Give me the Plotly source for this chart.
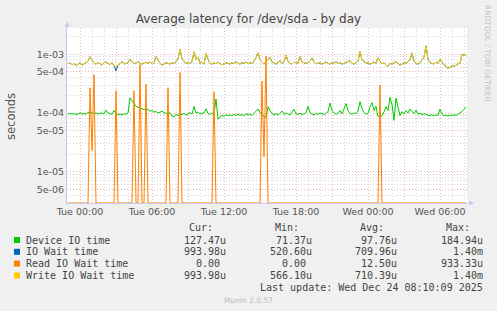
import plotly.graph_objects as go
import pandas as pd
import numpy as np

# ---------------- data (microseconds, one sample every 10 minutes) ----------------
START = "2025-12-22 23:00"
STEP = "10min"

device_us = [
    96, 99, 95, 98, 94, 97, 100, 96, 98, 95,
    102, 104, 99, 97, 101, 96, 98, 100, 97, 112,
    100, 97, 95, 110, 98, 94, 96, 93, 97, 95,
    100, 182, 160, 140, 130, 125, 121, 118, 114, 120,
    112, 108, 110, 104, 106, 100, 103, 108, 101, 99,
    97, 101, 88, 86, 95, 90, 96, 94, 99, 92,
    98, 101, 96, 129, 100, 104, 96, 99, 100, 118,
    98, 95, 99, 96, 173, 78, 85, 92, 88, 94,
    90, 93, 89, 95, 91, 96, 92, 94, 90, 97,
    93, 96, 91, 98, 108, 117, 102, 95, 86, 84,
    128, 110, 98, 94, 97, 92, 99, 108, 95, 100,
    96, 93, 104, 115, 97, 95, 99, 94, 97, 101,
    130, 102, 96, 93, 98, 95, 100, 97, 94, 99,
    105, 148, 112, 100, 96, 98, 110, 97, 120, 144,
    110, 98, 95, 101, 97, 108, 156, 118, 102, 96,
    98, 128, 150, 110, 130, 88, 85, 90, 104, 128,
    110, 185, 140, 75, 180, 120, 90, 105, 96, 110,
    100, 117, 105, 98, 112, 95, 100, 93, 98, 94,
    92, 90, 94, 89, 93, 91, 117, 96, 90, 92,
    89, 92, 90, 94, 91, 96, 100, 106, 115, 127,
]

iowait_us = [
    690, 720, 660, 700, 640, 680, 720, 650, 690, 710,
    760, 910, 780, 700, 680, 730, 690, 650, 720, 740,
    700, 660, 720, 640, 521, 650, 700, 760, 680, 700,
    720, 820, 740, 690, 710, 760, 700, 680, 720, 730,
    700, 740, 690, 720, 910, 780, 700, 650, 690, 720,
    700, 680, 720, 690, 760, 820, 1220, 850, 760, 700,
    720, 690, 760, 1100, 820, 900, 700, 740, 680, 1040,
    820, 700, 680, 720, 690, 740, 700, 660, 690, 720,
    700, 680, 720, 690, 760, 700, 680, 720, 700, 740,
    690, 720, 700, 760, 880, 1060, 800, 720, 680, 760,
    820, 890, 740, 700, 680, 720, 780, 700, 740, 970,
    760, 700, 680, 740, 720, 700, 910, 740, 720, 700,
    720, 760, 870, 740, 690, 700, 720, 680, 700, 740,
    700, 680, 720, 700, 760, 690, 720, 680, 700, 720,
    740, 780, 700, 680, 720, 760, 1130, 800, 760, 700,
    720, 680, 700, 740, 700, 870, 760, 690, 720, 650,
    620, 700, 680, 720, 760, 700, 650, 680, 720, 700,
    740, 800, 1060, 760, 700, 680, 720, 800, 900, 1400,
    820, 720, 700, 680, 740, 700, 830, 720, 660, 620,
    580, 600, 640, 620, 660, 690, 700, 1000, 960, 994,
]

read_us = [
    0, 0, 0, 0, 0, 0, 0, 0, 0, 0,
    0, 270, 23, 450, 0, 0, 0, 0, 0, 0,
    0, 0, 0, 0, 240, 0, 0, 0, 0, 0,
    0, 0, 0, 240, 0, 0, 670, 0, 0, 310,
    0, 0, 0, 0, 0, 0, 0, 0, 0, 0,
    270, 0, 0, 0, 0, 0, 490, 0, 0, 0,
    0, 0, 0, 0, 0, 0, 0, 0, 0, 0,
    0, 0, 0, 230, 0, 0, 0, 0, 0, 0,
    0, 0, 0, 0, 0, 0, 0, 0, 0, 0,
    0, 0, 0, 0, 0, 0, 0, 350, 18, 933.33,
    0, 0, 0, 0, 0, 0, 0, 0, 0, 0,
    0, 0, 0, 0, 0, 0, 0, 0, 0, 0,
    0, 0, 0, 0, 0, 0, 0, 0, 0, 0,
    0, 0, 0, 0, 0, 0, 0, 0, 0, 0,
    0, 0, 0, 0, 0, 0, 0, 0, 0, 0,
    0, 0, 0, 0, 0, 0, 300, 0, 0, 0,
    0, 0, 0, 0, 0, 0, 0, 0, 0, 0,
    0, 0, 0, 0, 0, 0, 0, 0, 0, 0,
    0, 0, 0, 0, 0, 0, 0, 0, 0, 0,
    0, 0, 0, 0, 0, 0, 0, 0, 0, 0,
]

write_us = [
    690, 720, 660, 700, 640, 680, 720, 650, 690, 710,
    760, 910, 780, 700, 680, 730, 690, 650, 720, 740,
    700, 660, 720, 640, 610, 650, 700, 760, 680, 700,
    720, 820, 740, 690, 710, 760, 700, 680, 720, 730,
    700, 740, 690, 720, 910, 780, 700, 650, 690, 720,
    700, 680, 720, 690, 760, 820, 1220, 850, 760, 700,
    720, 690, 760, 1100, 820, 900, 700, 740, 680, 1040,
    820, 700, 680, 720, 690, 740, 700, 660, 690, 720,
    700, 680, 720, 690, 760, 700, 680, 720, 700, 740,
    690, 720, 700, 760, 880, 1060, 800, 720, 680, 760,
    820, 890, 740, 700, 680, 720, 780, 700, 740, 970,
    760, 700, 680, 740, 720, 700, 910, 740, 720, 700,
    720, 760, 870, 740, 690, 700, 720, 680, 700, 740,
    700, 680, 720, 700, 760, 690, 720, 680, 700, 720,
    740, 780, 700, 680, 720, 760, 1130, 800, 760, 700,
    720, 680, 700, 740, 700, 870, 760, 690, 720, 650,
    620, 700, 680, 720, 760, 700, 650, 680, 720, 700,
    740, 800, 1060, 760, 700, 680, 720, 800, 900, 1400,
    820, 720, 700, 680, 740, 700, 830, 720, 660, 620,
    580, 600, 640, 620, 660, 690, 700, 1000, 960, 994,
]

series_names = ["Device IO time", "IO Wait time", "Read IO Wait time", "Write IO Wait time"]
series_colors = ["#00CC00", "#0066B3", "#FF8000", "#FFCC00"]
cur_vals = ["127.47u", "993.98u", "0.00\u00a0", "993.98u"]
min_vals = ["71.37u", "520.60u", "0.00\u00a0", "566.10u"]
avg_vals = ["97.76u", "709.96u", "12.50u", "710.39u"]
max_vals = ["184.94u", "1.40m", "933.33u", "1.40m"]

y_tick_vals = [5e-6, 1e-5, 5e-5, 1e-4, 5e-4, 1e-3]
y_tick_text = ["5e-06", "1e-05", "5e-05", "1e-04", "5e-04", "1e-03"]

X_RANGE = ["2025-12-22 22:55", "2025-12-24 08:15"]
Y_LOG_RANGE = [-5.533, -2.552]

# ---------------- geometry ----------------
W, H = 497, 311
L, R, T, B = 67, 30, 28, 108
PW, PH = W - L - R, H - T - B


def px(x):
    return (x - L) / PW


def py(y):
    return (H - B - y) / PH


times = pd.date_range(START, periods=len(device_us), freq=STEP)
floor = 10 ** Y_LOG_RANGE[0]

series_values = [device_us, iowait_us, read_us, write_us]

fig = go.Figure()
for name, color, vals in zip(series_names, series_colors, series_values):
    y = np.maximum(np.array(vals, dtype=float) * 1e-6, floor)
    fig.add_trace(go.Scatter(x=times, y=y, mode="lines", name=name,
                             line=dict(color=color, width=1), hoverinfo="skip"))

MAJOR = "rgba(200,40,20,0.35)"
MINOR = "rgba(140,140,140,0.35)"
AXIS = "#C8C8F0"
DASH = "1px,2px"

minor_y = [m * 10 ** e for e in range(-6, -2) for m in (2, 3, 4, 6, 7, 8, 9)]

fig.update_layout(
    width=W, height=H,
    margin=dict(l=L, r=R, t=T, b=B, pad=0),
    paper_bgcolor="#F0F0F0", plot_bgcolor="#FFFFFF",
    showlegend=False,
    font=dict(family="DejaVu Sans", color="#555555"),
    title=dict(text="Average latency for /dev/sda - by day", x=0.5, xanchor="center",
               xref="container", yref="container", y=1 - 19 / H, yanchor="middle",
               font=dict(size=12, color="#444444", family="DejaVu Sans")),
    xaxis=dict(type="date", range=X_RANGE, tickmode="linear", tick0="2025-12-23 00:00:00",
               dtick=3 * 3600000, ticklabelstep=2, tickformat="%a %H:%M",
               showgrid=True, gridcolor=MAJOR, griddash=DASH, gridwidth=1,
               minor=dict(dtick=3600000, tick0="2025-12-23 00:00:00", showgrid=True,
                          gridcolor=MINOR, griddash=DASH, gridwidth=1, ticks=""),
               ticks="", showline=True, linecolor=AXIS, linewidth=1, zeroline=False,
               tickfont=dict(size=9.5, color="#555555")),
    yaxis=dict(type="log", range=Y_LOG_RANGE, tickmode="array", tickvals=y_tick_vals,
               ticktext=y_tick_text, showgrid=True, gridcolor=MAJOR, griddash=DASH, gridwidth=1,
               minor=dict(tickmode="array", tickvals=minor_y, showgrid=True,
                          gridcolor=MINOR, griddash=DASH, gridwidth=1, ticks=""),
               ticks="", showline=True, linecolor=AXIS, linewidth=1, zeroline=False,
               tickfont=dict(size=9.5, color="#555555")),
)

ann = []
# y-axis title
ann.append(dict(text="seconds", x=px(11), y=py(116), xref="paper", yref="paper",
                textangle=-90, showarrow=False, xanchor="center", yanchor="middle",
                font=dict(size=11.5, color="#555555")))
# rrdtool credit
ann.append(dict(text="RRDTOOL / TOBI OETIKER", x=px(488), y=py(53), xref="paper", yref="paper",
                textangle=90, showarrow=False, xanchor="center", yanchor="middle",
                font=dict(size=7.5, color="#C4C4C4")))
# axis arrows
ann.append(dict(text="", x=0, y=py(22), xref="paper", yref="paper", showarrow=True,
                ax=0, ay=7, arrowhead=2, arrowsize=1, arrowwidth=1, arrowcolor=AXIS))
ann.append(dict(text="", x=px(474), y=0, xref="paper", yref="paper", showarrow=True,
                ax=-7, ay=0, arrowhead=2, arrowsize=1, arrowwidth=1, arrowcolor=AXIS))

MONO = "DejaVu Sans Mono"
LEG = dict(size=10, color="#444444", family=MONO)
header_y = 227.7
row_y = [240, 251.8, 263.6, 275.5]
col_right = [226, 311.7, 396.7, 483.3]
header_right = [213, 299, 384, 470]
headers = ["Cur:", "Min:", "Avg:", "Max:"]

for hx, ht in zip(header_right, headers):
    ann.append(dict(text=ht, x=px(hx + 2), y=py(header_y), xref="paper", yref="paper",
                    showarrow=False, xanchor="right", yanchor="middle", font=LEG))

shapes = []
for r, (name, color) in enumerate(zip(series_names, series_colors)):
    yy = row_y[r]
    shapes.append(dict(type="rect", xref="paper", yref="paper",
                       x0=px(14), x1=px(20), y0=py(yy + 3), y1=py(yy - 3),
                       fillcolor=color, line=dict(width=0)))
    ann.append(dict(text=name, x=px(24), y=py(yy), xref="paper", yref="paper",
                    showarrow=False, xanchor="left", yanchor="middle", font=LEG))
    for cx, vals in zip(col_right, [cur_vals, min_vals, avg_vals, max_vals]):
        ann.append(dict(text=vals[r], x=px(cx + 2), y=py(yy), xref="paper", yref="paper",
                        showarrow=False, xanchor="right", yanchor="middle", font=LEG))

ann.append(dict(text="Last update: Wed Dec 24 08:10:09 2025", x=px(485.3), y=py(287.7),
                xref="paper", yref="paper", showarrow=False, xanchor="right",
                yanchor="middle", font=LEG))
ann.append(dict(text="Munin 2.0.57", x=px(248), y=py(300), xref="paper", yref="paper",
                showarrow=False, xanchor="center", yanchor="middle",
                font=dict(size=7.5, color="#BBBBBB", family="DejaVu Sans")))

fig.update_layout(annotations=ann, shapes=shapes)

fig.write_html("out.html")
